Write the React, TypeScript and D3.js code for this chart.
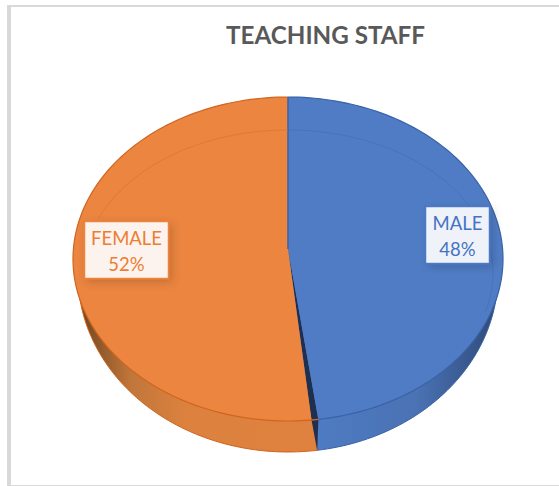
import React from "react";
import * as d3 from "d3";

const categories = ["MALE", "FEMALE"];
const shares = [48, 52];
const labels = ["48%", "52%"];
const title = "TEACHING STAFF";

const width = 559;
const height = 486;
const font = "Lato, 'Open Sans', sans-serif";

// the face and the base are different ellipses, the picture has perspective
const face = { cx: 288, cy: 259, rx: 215, ry: 162 };
const base = { cx: 288, cy: 275, rx: 210, ry: 177 };
const ring = { cx: 288, cy: 273, rx: 205, ry: 143 };
const apex: [number, number] = [288, 249];
const cutGap = 0.016;
const baseShift = 0.014;

const colors = ["#4f7cc4", "#eb8540"];
const edges = ["#3a62a6", "#cf651f"];
const textColors = ["#4472c4", "#ed7d31"];

const boxes = [
  { x: 425.5, y: 206.5, w: 64, h: 57 },
  { x: 84.5, y: 221.5, w: 84, h: 57 },
];

type Ell = { cx: number; cy: number; rx: number; ry: number };

const pt = (e: Ell, t: number): [number, number] => [e.cx + e.rx * Math.sin(t), e.cy - e.ry * Math.cos(t)];
const rim = (e: Ell, a: number, b: number): [number, number][] => {
  const n = Math.ceil(Math.abs(b - a) * 40);
  return d3.range(n + 1).map((i) => pt(e, a + ((b - a) * i) / n));
};
const line = d3.line();

export default function App() {
  const arcs = d3.pie<number>().sort(null)(shares);
  const cut = arcs[0].endAngle;
  const spans: [number, number][] = [
    [0, cut - cutGap],
    [cut + cutGap, 2 * Math.PI],
  ];
  const baseCut = cut - baseShift;
  const baseSpans: [number, number][] = [
    [0, baseCut],
    [baseCut, 2 * Math.PI],
  ];
  const cutBottom = pt(base, baseCut);

  return (
    <svg width={width} height={height} style={{ position: "absolute", left: 0, top: 0, display: "block" }}>
      <defs>
        <linearGradient id="sideBlue" gradientUnits="userSpaceOnUse" x1={318} x2={498} y1={0} y2={0}>
          <stop offset="0" stopColor="#4f7bc2" />
          <stop offset="0.55" stopColor="#4a72b4" />
          <stop offset="1" stopColor="#2f4a78" />
        </linearGradient>
        <linearGradient id="sideOrange" gradientUnits="userSpaceOnUse" x1={78} x2={316} y1={0} y2={0}>
          <stop offset="0" stopColor="#6e4420" />
          <stop offset="0.22" stopColor="#c0763a" />
          <stop offset="0.45" stopColor="#dc813e" />
          <stop offset="1" stopColor="#e0823f" />
        </linearGradient>
        <filter id="boxShadow" x="-30%" y="-30%" width="160%" height="160%">
          <feDropShadow dx="3" dy="3" stdDeviation="4" floodColor="#000" floodOpacity="0.18" />
        </filter>
      </defs>

      <rect width={width} height={height} fill="#fff" />
      <rect x={7} y={5} width={4} height={481} fill="#d9d9d9" />
      <rect x={7} y={5} width={552} height={2} fill="#d9d9d9" />
      <rect x={7} y={485} width={552} height={1} fill="#d9d9d9" />

      <text x={325.5} y={44} textAnchor="middle" fontFamily={font} fontWeight={700} fontSize={24.2} fill="#595959">
        {title}
      </text>

      {/* side wall */}
      {baseSpans.map(([a, b], i) => (
        <path
          key={"side" + categories[i]}
          d={line([[base.cx, base.cy], ...rim(base, a, b)]) + "Z"}
          fill={i === 0 ? "url(#sideBlue)" : "url(#sideOrange)"}
          stroke={edges[i]}
          strokeWidth={1}
        />
      ))}

      {/* dark cut between the slices */}
      <path
        d={line([apex, pt(face, spans[0][1]), cutBottom, pt(face, spans[1][0])]) + "Z"}
        fill="#1f2f4f"
      />

      {/* top face */}
      {spans.map(([a, b], i) => (
        <path
          key={"face" + categories[i]}
          d={line([apex, ...rim(face, a, b)]) + "Z"}
          fill={colors[i]}
        />
      ))}
      {spans.map(([a, b], i) => (
        <path
          key={"rim" + categories[i]}
          d={line(rim(face, a, b)) ?? ""}
          fill="none"
          stroke={edges[i]}
          strokeWidth={1.2}
        />
      ))}
      <path d={line([pt(face, spans[0][1]), pt(face, spans[1][0])]) ?? ""} stroke={edges[1]} strokeWidth={1.5} />
      <path d={line([pt(face, 0), apex]) ?? ""} stroke="#3a62a6" strokeWidth={1.5} />

      {/* faint bevel ring, upper part only */}
      <path d={line(rim(ring, 0, 1.85)) ?? ""} fill="none" stroke="#4269ad" strokeOpacity={0.5} strokeWidth={1} />
      <path d={line(rim(ring, 0, -1.18)) ?? ""} fill="none" stroke="#d96f28" strokeOpacity={0.55} strokeWidth={1} />

      {/* data labels */}
      {boxes.map((b, i) => (
        <g key={"label" + categories[i]}>
          <rect x={b.x} y={b.y} width={b.w} height={b.h} fill="#fff" fillOpacity={0.9} stroke={textColors[i]} strokeOpacity={0.9} strokeWidth={1.5} filter="url(#boxShadow)" />
          <text x={b.x + b.w / 2} textAnchor="middle" fontFamily={font} fontSize={18.5} fill={textColors[i]}>
            <tspan x={b.x + b.w / 2} y={b.y + 23.5}>{categories[i]}</tspan>
            <tspan x={b.x + b.w / 2} y={b.y + 49.5}>{labels[i]}</tspan>
          </text>
        </g>
      ))}
    </svg>
  );
}
